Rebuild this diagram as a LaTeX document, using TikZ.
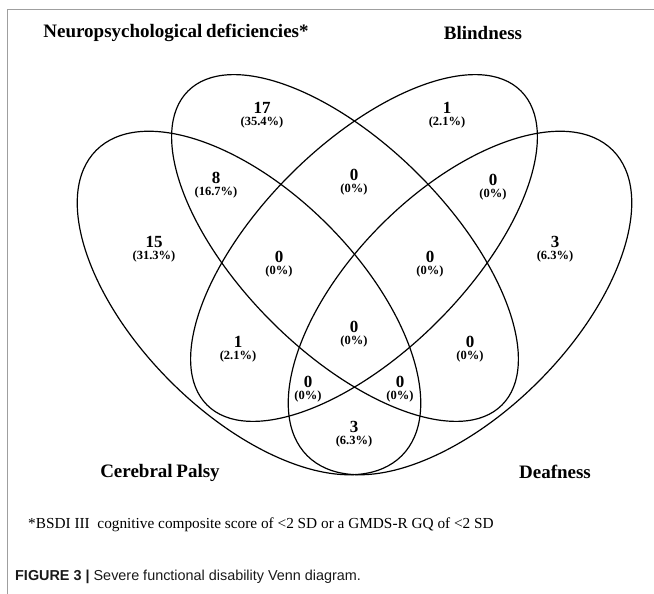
\documentclass[tikz,border=0pt]{standalone}
\usepackage{fontspec}
\setmainfont{Liberation Serif}
\setsansfont{Liberation Sans}
\newcommand\vreg[4]{\node[cnt] (#1) at (#2) {#3};
	\node[pct] (#1p) at (#1.south) {(#4\%)};}
\begin{document}
\begin{tikzpicture}[x=1pt,y=-1pt]
	\tikzstyle{set}=[line width=1.2pt];
	\tikzstyle{cnt}=[inner sep=0pt,font=\fontsize{17}{17}\selectfont\bfseries];
	\tikzstyle{pct}=[inner sep=0pt,anchor=north,yshift=-3pt,font=\fontsize{12.5}{12.5}\selectfont\bfseries];
	\tikzstyle{title}=[inner sep=0pt,font=\fontsize{19}{19}\selectfont\bfseries];
	\useasboundingbox (0,0) rectangle (654,594);
	\draw[gray!75,line width=1pt] (7,594) -- (7,10) -- (654,10);
	% the four sets
	\draw[set,shift={(249,303)},rotate=-45] (0,0) ellipse [x radius=216pt, y radius=111pt];
	\draw[set,shift={(345,248)},rotate=-45] (0,0) ellipse [x radius=222pt, y radius=104pt];
	\draw[set,shift={(364,248)},rotate=45] (0,0) ellipse [x radius=222pt, y radius=104pt];
	\draw[set,shift={(460,303)},rotate=45] (0,0) ellipse [x radius=216pt, y radius=111pt];
	\node[title] (tnp) at (176,33) {Neuropsychological\hspace{-1pt} deficiencies*};
	\node[title] (tbl) at (483,33) {Blindness};
	\node[title] (tcp) at (160,473) {Cerebral\hspace{-1pt} Palsy};
	\node[title] (tdf) at (555,472) {Deafness};
	% counts
	\vreg{np}{262,108}{17}{35.4}
	\vreg{bl}{447,108}{1}{2.1}
	\vreg{cp}{154,242}{15}{31.3}
	\vreg{df}{555,242}{3}{6.3}
	\vreg{cpnp}{216,178}{8}{16.7}
	\vreg{npbl}{354,175}{0}{0}
	\vreg{bldf}{493,180}{0}{0}
	\vreg{cpnpbl}{279,257}{0}{0}
	\vreg{npbldf}{430,257}{0}{0}
	\vreg{cpbl}{238,342}{1}{2.1}
	\vreg{all}{354,327}{0}{0}
	\vreg{npdf}{470,342}{0}{0}
	\vreg{cpbldf}{308,382}{0}{0}
	\vreg{cpnpdf}{400,382}{0}{0}
	\vreg{cpdf}{354,427}{3}{6.3}
	\node[anchor=west,inner sep=0pt,font=\fontsize{15.3}{15.3}\selectfont] (note) at (28,525)
		{*BSDI III\ \ cognitive composite score of <2 SD or a GMDS-R GQ of <2 SD};
	\node[anchor=west,inner sep=0pt,text=black!90,font=\fontsize{14.4}{14.4}\selectfont\sffamily] (cap) at (15,577)
		{\textbf{FIGURE 3 |} Severe functional disability Venn diagram.};
\end{tikzpicture}
\end{document}
